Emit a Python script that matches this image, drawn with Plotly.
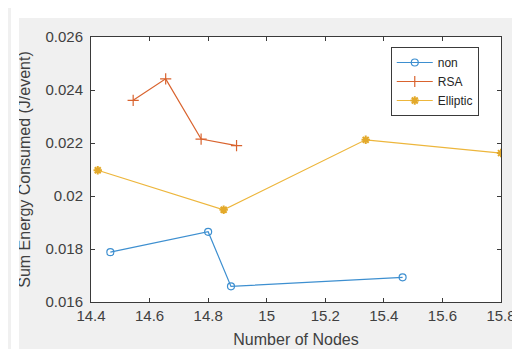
import plotly.graph_objects as go

# ---- data ----
non_x = [14.466, 14.800, 14.878, 15.464]
non_y = [0.01788, 0.01865, 0.01659, 0.01693]
rsa_x = [14.544, 14.655, 14.776, 14.897]
rsa_y = [0.02361, 0.02442, 0.02215, 0.02190]
ell_x = [14.423, 14.853, 15.338, 15.800]
ell_y = [0.02097, 0.01948, 0.02212, 0.02162]

x_ticks = [14.4, 14.6, 14.8, 15.0, 15.2, 15.4, 15.6, 15.8]
x_tick_labels = ["14.4", "14.6", "14.8", "15", "15.2", "15.4", "15.6", "15.8"]
y_ticks = [0.016, 0.018, 0.020, 0.022, 0.024, 0.026]
y_tick_labels = ["0.016", "0.018", "0.02", "0.022", "0.024", "0.026"]

FONT = "Arial, 'Liberation Sans', sans-serif"
AX = "#3a3a3a"
TXT = "#404040"

W, H = 520, 349
L, R, T, B = 83, 13, 29, 55
PW, PH = W - L - R, H - T - B

fig = go.Figure()
fig.add_trace(go.Scatter(x=non_x, y=non_y, name="non", mode="lines+markers",
                         line=dict(color="#3d8fd0", width=1.2),
                         marker=dict(symbol="circle-open", size=7, color="#3d8fd0",
                                     line=dict(width=1.2))))
fig.add_trace(go.Scatter(x=rsa_x, y=rsa_y, name="RSA", mode="lines+markers",
                         line=dict(color="#d9632e", width=1.2),
                         marker=dict(symbol="cross-thin-open", size=8, color="#d9632e",
                                     line=dict(width=1.2, color="#d9632e"))))
fig.add_trace(go.Scatter(x=ell_x, y=ell_y, name="Elliptic", mode="lines+markers",
                         line=dict(color="#edb63c", width=1.2),
                         marker=dict(symbol="asterisk-open", size=7, color="#e3a92a",
                                     line=dict(width=2, color="#e3a92a"))))

# white border strips around the gray figure panel (as empty annotation boxes)
fig.add_annotation(xref="paper", yref="paper", x=-L / PW, xanchor="left",
                   y=1 + T / PH, yanchor="top", text=" ", showarrow=False,
                   width=W, height=10, bgcolor="white", borderpad=0, borderwidth=0)
fig.add_annotation(xref="paper", yref="paper", x=-L / PW, xanchor="left",
                   y=1 + T / PH, yanchor="top", text=" ", showarrow=False,
                   width=8, height=H, bgcolor="white", borderpad=0, borderwidth=0)

fig.update_layout(
    width=W, height=H,
    margin=dict(l=L, r=R, t=T, b=B),
    paper_bgcolor="#f0f0f0", plot_bgcolor="white",
    font=dict(family=FONT, color=TXT, size=13),
    showlegend=True,
    legend=dict(x=(393 - L) / PW, y=1 - (39 - T) / PH, xanchor="left", yanchor="top",
                bgcolor="white", bordercolor=AX, borderwidth=1,
                font=dict(size=12, color="#262626"), tracegroupgap=0,
                itemwidth=36),
)
fig.update_xaxes(range=[14.4, 15.8], tickvals=x_ticks, ticktext=x_tick_labels,
                 showgrid=False, zeroline=False, showline=True, linecolor=AX, linewidth=1,
                 mirror="ticks", ticks="inside", ticklen=4, tickcolor=AX,
                 tickfont=dict(size=15, color=TXT), ticklabelstandoff=0,
                 ticklabeloverflow="allow",
                 title=dict(text="Number of Nodes", font=dict(size=16, color=TXT), standoff=10))
fig.update_yaxes(range=[0.016, 0.026], tickvals=y_ticks, ticktext=y_tick_labels,
                 showgrid=False, zeroline=False, showline=True, linecolor=AX, linewidth=1,
                 mirror="ticks", ticks="inside", ticklen=4, tickcolor=AX,
                 tickfont=dict(size=15, color=TXT), ticklabelstandoff=4,
                 title=dict(text="Sum Energy Consumed (J/event)", font=dict(size=16, color=TXT), standoff=10))

fig.write_html("out.html")
